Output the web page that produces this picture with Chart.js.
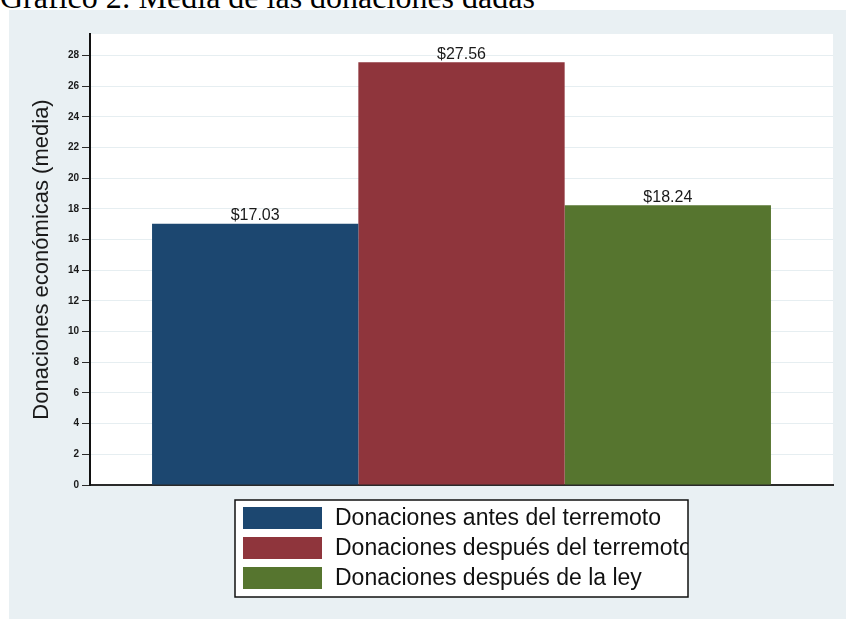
<!DOCTYPE html>
<html lang="es">
<head>
    <meta charset="UTF-8">
    <title>Gráfico 2</title>
    <script src="https://cdn.jsdelivr.net/npm/chart.js@4/dist/chart.umd.min.js"></script>
    <style>
        body {
            margin: 0;
            background: #ffffff;
            width: 846px;
            height: 619px;
            overflow: hidden;
            position: relative;
        }

        .title {
            position: absolute;
            left: 0;
            top: -19px;
            font-family: "Liberation Serif", "Times New Roman", serif;
            font-size: 32px;
            line-height: 32px;
            color: #000;
            white-space: nowrap;
        }

        .graph {
            position: absolute;
            left: 9px;
            top: 10px;
            width: 837px;
            height: 609px;
            background: #e9f0f3;
        }
    </style>
</head>
<body>
    <div class="title">Gráfico 2: Media de las donaciones dadas</div>
    <div class="graph">
        <canvas id="myChart"></canvas>
    </div>

<script>
// data
const categories = [""];
const seriesNames = [
  "Donaciones antes del terremoto",
  "Donaciones después del terremoto",
  "Donaciones después de la ley"
];
const seriesValues = [17.03, 27.56, 18.24];
const seriesColors = ["#1c4770", "#8f353c", "#56752f"];
const yTitle = "Donaciones económicas (media)";
const yMax = 29.4;
const yStep = 2;

const FONT = "'Liberation Sans', Arial, sans-serif";

// white plot region on the grey graph background
const plotBg = {
  id: "plotBg",
  beforeDraw(chart) {
    const a = chart.chartArea;
    chart.ctx.save();
    chart.ctx.fillStyle = "#ffffff";
    chart.ctx.fillRect(a.left, a.top, a.right - a.left, a.bottom - a.top);
    chart.ctx.restore();
  }
};

// value labels on top of the bars
const valueLabels = {
  id: "valueLabels",
  afterDatasetsDraw(chart) {
    const ctx = chart.ctx;
    ctx.save();
    ctx.font = "16px " + FONT;
    ctx.fillStyle = "#1a1a1a";
    ctx.textAlign = "center";
    ctx.textBaseline = "bottom";
    chart.data.datasets.forEach((ds, i) => {
      const bar = chart.getDatasetMeta(i).data[0];
      ctx.fillText("$" + ds.data[0].toFixed(2), bar.x, bar.y);
    });
    ctx.restore();
  }
};

// boxed legend under the plot, one entry per row
const boxLegend = {
  id: "boxLegend",
  afterDraw(chart) {
    const ctx = chart.ctx;
    const area = chart.chartArea;
    const w = 453, rowH = 30;
    const h = chart.data.datasets.length * rowH + 7;
    const x = (area.left + area.right) / 2 - w / 2;
    const y = area.bottom + 15;
    ctx.save();
    ctx.fillStyle = "#ffffff";
    ctx.fillRect(x, y, w, h);
    ctx.beginPath();
    ctx.rect(x, y, w, h);
    ctx.clip();
    ctx.font = "23px " + FONT;
    ctx.textBaseline = "middle";
    chart.data.datasets.forEach((ds, i) => {
      const cy = y + 18 + i * rowH;
      ctx.fillStyle = ds.backgroundColor;
      ctx.fillRect(x + 8, cy - 11, 79, 22);
      ctx.fillStyle = "#111111";
      ctx.fillText(ds.label, x + 100, cy + 1);
    });
    ctx.restore();
    ctx.save();
    ctx.strokeStyle = "#111111";
    ctx.lineWidth = 1.5;
    ctx.strokeRect(x, y, w, h);
    ctx.restore();
  }
};

const myChart = new Chart("myChart", {
  type: "bar",
  data: {
    labels: categories,
    datasets: seriesNames.map((name, i) => ({
      label: name,
      data: [seriesValues[i]],
      backgroundColor: seriesColors[i],
      borderWidth: 0
    }))
  },
  options: {
    responsive: true,
    maintainAspectRatio: false,
    animation: false,
    categoryPercentage: 0.833,
    barPercentage: 1.0,
    layout: {
      padding: { left: 0, right: 13, top: 24, bottom: 134 }
    },
    plugins: {
      legend: { display: false },
      tooltip: { enabled: false }
    },
    scales: {
      x: {
        ticks: { display: false },
        grid: { display: false, drawTicks: false },
        border: { display: true, color: "#2a2a2a", width: 2 },
        afterFit: (scale) => { scale.height = 0; }
      },
      y: {
        min: 0,
        max: yMax,
        ticks: {
          stepSize: yStep,
          includeBounds: false,
          padding: 3,
          color: "#1a1a1a",
          font: { family: FONT, size: 10, weight: "bold" }
        },
        grid: {
          color: "#e6eef1",
          lineWidth: 1,
          drawTicks: true,
          tickLength: 8,
          tickColor: "#2a2a2a"
        },
        border: { display: true, color: "#111111", width: 2 },
        title: {
          display: true,
          text: yTitle,
          color: "#1a1a1a",
          font: { family: FONT, size: 22 },
          padding: { top: 20, bottom: 0 }
        },
        afterFit: (scale) => { scale.width = 81; }
      }
    }
  },
  plugins: [plotBg, valueLabels, boxLegend]
});
</script>
</body>
</html>
